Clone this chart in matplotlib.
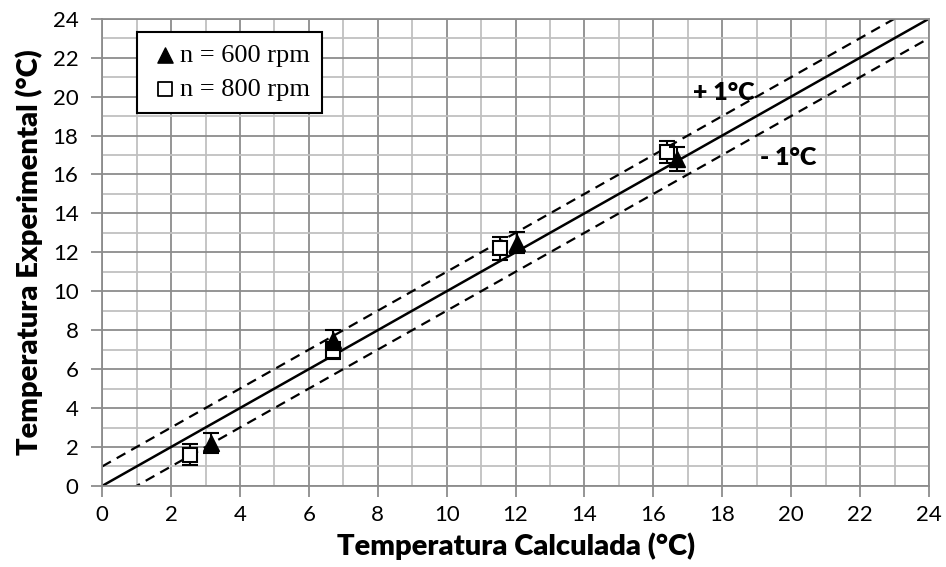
import numpy as np
import matplotlib
matplotlib.use("Agg")
import matplotlib.pyplot as plt
from matplotlib.ticker import MultipleLocator

# data
x_600 = [3.15, 6.7, 12.05, 16.7]
y_600 = [2.2, 7.5, 12.5, 16.8]
err_600 = [0.5, 0.5, 0.55, 0.6]

x_800 = [2.55, 6.7, 11.55, 16.4]
y_800 = [1.6, 6.95, 12.2, 17.15]
err_800 = [0.55, 0.45, 0.6, 0.55]

line_x = [0, 24]
offset = 1.0

sans = ['Lato', 'DejaVu Sans']
serif = ['Liberation Serif', 'DejaVu Serif']

fig = plt.figure(figsize=(9.46, 5.67), dpi=100)
ax = fig.add_axes([0.108, 0.143, 0.874, 0.824])

ax.set_xlim(0, 24)
ax.set_ylim(0, 24)
ax.xaxis.set_major_locator(MultipleLocator(2))
ax.yaxis.set_major_locator(MultipleLocator(2))
ax.xaxis.set_minor_locator(MultipleLocator(1))
ax.yaxis.set_minor_locator(MultipleLocator(1))
ax.grid(which='major', color='#8c8c8c', lw=1.3, zorder=0)
ax.grid(which='minor', color='#c0c0c0', lw=1.3, zorder=0)
ax.set_axisbelow(True)
ax.tick_params(which='major', length=8, color='#8c8c8c', width=1.3, labelsize=16)
ax.tick_params(which='minor', length=0)
for s in ax.spines.values():
    s.set_color('#8c8c8c')
    s.set_linewidth(1.3)
for lab in ax.get_xticklabels() + ax.get_yticklabels():
    lab.set_family(sans)
ax.tick_params(axis='x', pad=6)
ax.tick_params(axis='y', pad=9)

# reference lines
lx = np.array(line_x)
ax.plot(lx, lx, color='black', lw=1.8, zorder=2)
ax.plot(lx, lx + offset, color='black', lw=1.6, ls=(0, (4.5, 3)), zorder=2)
ax.plot(lx, lx - offset, color='black', lw=1.6, ls=(0, (4.5, 3)), zorder=2)

ax.errorbar(x_800, y_800, yerr=err_800, fmt='s', ms=10.5, mfc='white', mec='black',
            mew=1.5, ecolor='black', elinewidth=1.5, capsize=5.5, capthick=1.5, zorder=3)
ax.errorbar(x_600, y_600, yerr=err_600, fmt='^', ms=11, mfc='black', mec='black',
            ecolor='black', elinewidth=1.5, capsize=5.5, capthick=1.5, zorder=4)

ax.text(17.15, 20.2, '+ 1°C', family=sans, fontweight='heavy', fontsize=18, va='center')
ax.text(19.1, 16.85, '- 1°C', family=sans, fontweight='heavy', fontsize=18, va='center')

ax.set_xlabel('Temperatura Calculada (°C)', family=sans, fontweight='heavy', fontsize=21, labelpad=5)
ax.set_ylabel('Temperatura Experimental (°C)', family=sans, fontweight='heavy', fontsize=21, labelpad=7)

# legend
h1 = ax.scatter([], [], marker='^', s=120, color='black')
h2 = ax.scatter([], [], marker='s', s=100, facecolor='white', edgecolor='black', lw=1.3)
leg = ax.legend([h1, h2], ['n = 600 rpm', 'n = 800 rpm'], loc='upper left',
                bbox_to_anchor=(0.042, 0.972), borderaxespad=0, prop={'family': serif, 'size': 19},
                frameon=True, fancybox=False, framealpha=1, edgecolor='black',
                handletextpad=0.0, handlelength=1.2, borderpad=0.45, labelspacing=0.4)
leg.get_frame().set_linewidth(1.5)

fig.savefig('out.png', dpi=100)
